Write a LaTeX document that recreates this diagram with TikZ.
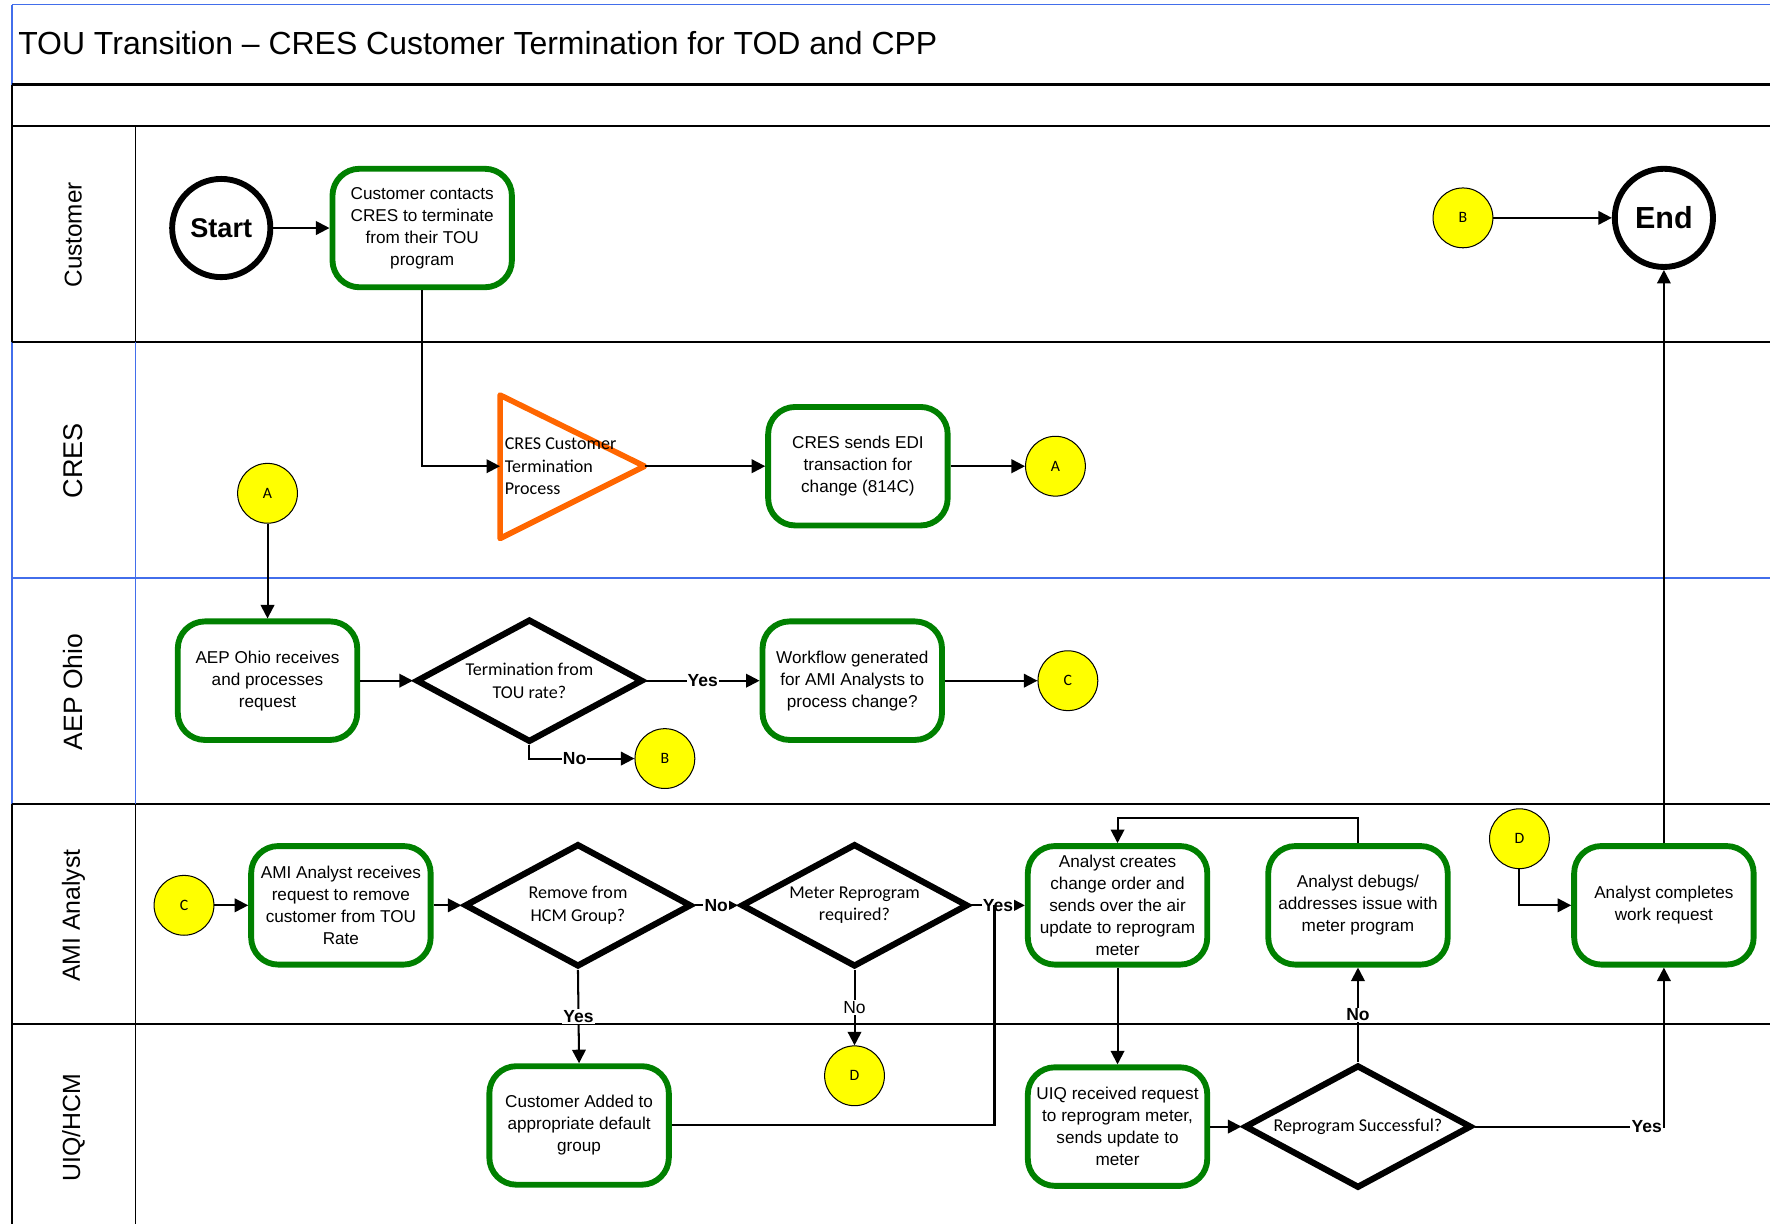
\documentclass[tikz,border=0pt]{standalone}
\usepackage{fontspec}
\setmainfont{Liberation Sans}
\newfontfamily\carl{Carlito}
\usetikzlibrary{arrows.meta,shapes.geometric}
\definecolor{boxgreen}{RGB}{0,128,0}
\definecolor{triorange}{RGB}{255,102,0}
\definecolor{laneblue}{RGB}{66,110,235}
\definecolor{connyellow}{RGB}{255,255,0}
\begin{document}
\begin{tikzpicture}[x=1pt,y=-1pt,
  laneline/.style={line width=1.7pt},
  procbox/.style={draw=boxgreen, line width=5.2pt, rounded corners=24pt,
    minimum width=159pt, minimum height=105pt, align=center, inner sep=2pt,
    font=\fontsize{15.2}{19.5}\selectfont},
  decision/.style={draw=black, line width=5.5pt, diamond, aspect=2,
    minimum width=201pt, minimum height=109pt, inner sep=0pt, align=center,
    font=\carl\fontsize{16}{20}\selectfont},
  offpage/.style={circle, draw=black, line width=0.9pt, fill=connyellow,
    minimum size=53pt, inner sep=0pt, font=\carl\fontsize{14}{14}\selectfont},
  terminal/.style={circle, draw=black, line width=5.2pt, minimum size=87pt,
    inner sep=0pt},
  arr/.style={line width=1.8pt, -{Triangle[length=12pt,width=12pt]}},
  plainline/.style={line width=1.8pt},
  lbl/.style={fill=white, inner sep=1pt, font=\bfseries\fontsize{15.5}{16}\selectfont},
  lbln/.style={fill=white, inner sep=1pt, font=\fontsize{15.5}{16}\selectfont},
  lanelabel/.style={rotate=90, inner sep=0pt}
]
\useasboundingbox (0,0) rectangle (1568,1084);
\fill[white] (0,0) rectangle (1568,1084);

% frame and lanes
\draw[laneline, laneblue] (11,4) -- (1568,4);
\draw[laneline, laneblue] (11,4) -- (11,75);
\draw[laneline] (11,75) -- (11,303);
\draw[laneline, laneblue] (11,303) -- (11,712);
\draw[laneline] (11,712) -- (11,1084);
\draw[line width=2.2pt] (11,75) -- (1568,75);
\draw[laneline] (11,112) -- (1568,112);
\draw[laneline] (11,303) -- (1568,303);
\draw[laneline, laneblue] (11,512) -- (1568,512);
\draw[laneline] (11,712) -- (1568,712);
\draw[laneline] (11,907) -- (1568,907);
\draw[laneline] (120,112) -- (120,303);
\draw[laneline, laneblue] (120,303) -- (120,712);
\draw[laneline] (120,712) -- (120,1084);

\node[anchor=base west, inner sep=0pt, font=\fontsize{28.3}{28}\selectfont] (title) at (16,48)
  {TOU Transition – CRES Customer Termination for TOD and CPP};

\node[lanelabel, font=\fontsize{21.5}{22}\selectfont] (lCust) at (65,208) {Customer};
\node[lanelabel, font=\fontsize{24}{24}\selectfont] (lCres) at (65,408) {CRES};
\node[lanelabel, font=\fontsize{23.5}{24}\selectfont] (lAep) at (65,613) {AEP Ohio};
\node[lanelabel, font=\fontsize{22}{22}\selectfont] (lAmi) at (65,811) {AMI Analyst};
\node[lanelabel, font=\fontsize{22}{22}\selectfont] (lUiq) at (65,999) {UIQ/HCM};

% Customer lane
\node[terminal, font=\bfseries\fontsize{24}{24}\selectfont] (start) at (196,202) {Start};
\node[procbox] (cust) at (374,202) {Customer contacts\\CRES to terminate\\from their TOU\\program};
\node[offpage] (B1) at (1296,193) {B};
\node[terminal, font=\bfseries\fontsize{27}{27}\selectfont] (end) at (1474,193) {End};

% CRES lane
\draw[draw=triorange, line width=5pt, line join=round] (443,350) -- (443,477) -- (571,413) -- cycle;
\coordinate (triL) at (443,413);
\coordinate (triR) at (571,413);
\node[anchor=west, align=left, inner sep=0pt, font=\carl\fontsize{16}{19.5}\selectfont] (trilabel) at (447,413)
  {CRES Customer\\Termination\\Process};
\node[procbox] (cres) at (760,413) {CRES sends EDI\\transaction for\\change (814C)};
\node[offpage] (A1) at (935,413) {A};

% AEP Ohio lane
\node[offpage] (A2) at (237,437) {A};
\node[procbox] (aep) at (237,603) {AEP Ohio receives\\and processes\\request};
\node[decision] (term) at (469,603) {Termination from\\TOU rate?};
\node[procbox] (work) at (755,603) {Workflow generated\\for AMI Analysts to\\process change?};
\node[offpage] (C1) at (946,603) {C};
\node[offpage] (B2) at (589,672) {B};

% AMI Analyst lane
\node[offpage] (C2) at (163,802) {C};
\node[procbox] (ami) at (302,802) {AMI Analyst receives\\request to remove\\customer from TOU\\Rate};
\node[decision] (remove) at (512,802) {Remove from\\HCM Group?};
\node[decision] (meter) at (757,802) {Meter Reprogram\\required?};
\node[procbox] (create) at (990,802) {Analyst creates\\change order and\\sends over the air\\update to reprogram\\meter};
\node[procbox] (debug) at (1203,802) {Analyst debugs/\\addresses issue with\\meter program};
\node[offpage] (D2) at (1346,743) {D};
\node[procbox] (complete) at (1474,802) {Analyst completes\\work request};
\coordinate (jn) at (881,802);

% UIQ/HCM lane
\node[procbox] (added) at (513,997) {Customer Added to\\appropriate default\\group};
\node[offpage] (D1) at (757,953) {D};
\node[procbox] (uiq) at (990,998) {UIQ received request\\to reprogram meter,\\sends update to\\meter};
\node[decision] (rep) at (1203,998) {Reprogram Successful?};

% connectors
\draw[arr] (start.east) -- (cust.west);
\draw[arr] (B1.east) -- (end.west);
\draw[arr] (cust.south) |- (triL);
\draw[arr] (triR) -- (cres.west);
\draw[arr] (cres.east) -- (A1.west);
\draw[arr] (A2.south) -- (aep.north);
\draw[arr] (aep.east) -- (term.west);
\draw[arr] (term.east) -- node[lbl] (yes1) {Yes} (work.west);
\draw[arr] (work.east) -- (C1.west);
\draw[arr] (term.south) |- node[lbl, pos=0.715] (no1) {No} (B2.west);
\draw[arr] (C2.east) -- (ami.west);
\draw[arr] (ami.east) -- (remove.west);
\draw[arr] (remove.east) -- node[lbl] (no2) {No} (meter.west);
\draw[arr] (meter.east) -- node[lbl] (yes2) {Yes} (create.west);
\draw[arr] (remove.south) -- node[lbl] (yes3) {Yes} (added.north);
\draw[arr] (meter.south) -- node[lbln] (no3) {No} (D1.north);
\draw[plainline] (added.east) -| (jn);
\draw[arr] (create.south) -- (uiq.north);
\draw[arr] (uiq.east) -- (rep.west);
\draw[arr] (rep.north) -- node[lbl] (no4) {No} (debug.south);
\draw[arr] (debug.north) -- ++(0,-22) -| (create.north);
\draw[arr] (rep.east) -| node[lbl, pos=0.5, anchor=east] (yes4) {Yes} (complete.south);
\draw[arr] (D2.south) |- (complete.west);
\draw[arr] (complete.north) -- (end.south);
\end{tikzpicture}
\end{document}
